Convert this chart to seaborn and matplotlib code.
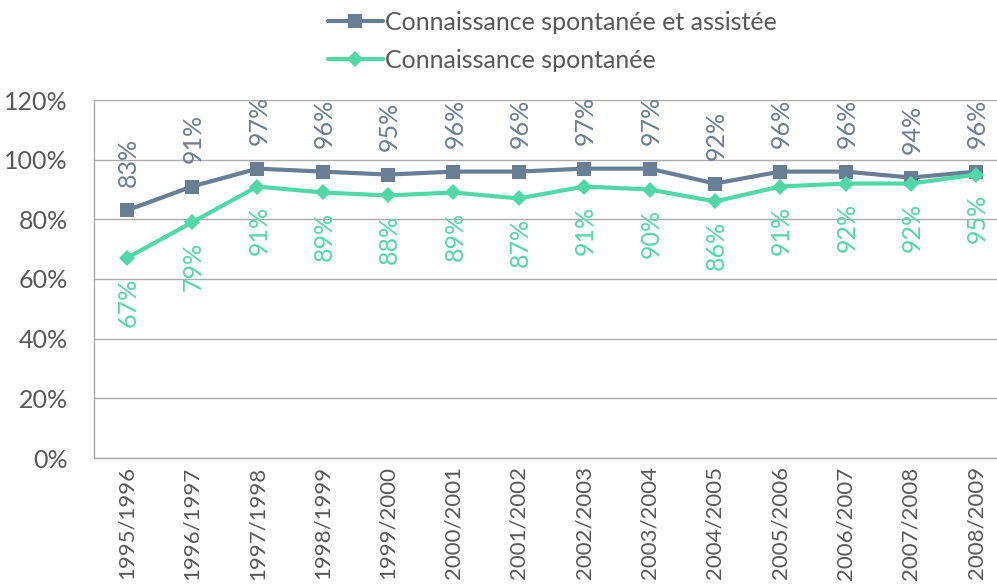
import numpy as np
import pandas as pd
import matplotlib
matplotlib.use("Agg")
import matplotlib.pyplot as plt
import seaborn as sns

# data
years = ["1995/1996", "1996/1997", "1997/1998", "1998/1999", "1999/2000", "2000/2001", "2001/2002",
         "2002/2003", "2003/2004", "2004/2005", "2005/2006", "2006/2007", "2007/2008", "2008/2009"]
assistee = [83, 91, 97, 96, 95, 96, 96, 97, 97, 92, 96, 96, 94, 96]
spontanee = [67, 79, 91, 89, 88, 89, 87, 91, 90, 86, 91, 92, 92, 95]
label_assistee = "Connaissance spontanée et assistée"
label_spontanee = "Connaissance spontanée"
y_ticks = [0, 20, 40, 60, 80, 100, 120]

col_blue = "#687E95"
col_green = "#4FD9A7"
col_text = "#595959"
col_grid = "#ABABAB"

sns.set_style("white")
plt.rcParams['font.family'] = ['Lato', 'DejaVu Sans']

fig = plt.figure(figsize=(9.97, 5.86), dpi=100)
ax = fig.add_axes([94 / 997, 128 / 586, 915 / 997, 358 / 586])

pos = np.arange(len(years))
df = pd.DataFrame({"pos": pos, "assistee": assistee, "spontanee": spontanee})

sns.lineplot(data=df, x="pos", y="assistee", ax=ax, color=col_blue, lw=3, marker="s",
             markersize=10, markeredgewidth=0, label=label_assistee)
sns.lineplot(data=df, x="pos", y="spontanee", ax=ax, color=col_green, lw=3, marker="D",
             markersize=8, markeredgewidth=0, label=label_spontanee)

# data labels, rotated like the original
for p, v in zip(pos, assistee):
    ax.annotate(f"{v}%", (p, v), xytext=(1, 17), textcoords="offset points", rotation=90,
                ha="center", va="bottom", fontsize=18, color=col_blue)
for p, v in zip(pos, spontanee):
    ax.annotate(f"{v}%", (p, v), xytext=(1, -14), textcoords="offset points", rotation=90,
                ha="center", va="top", fontsize=18, color=col_green)

ax.set_xlim(-0.5, len(years) - 0.5)
ax.set_ylim(0, 120)
ax.set_yticks(y_ticks)
ax.set_yticklabels([f"{t}%" for t in y_ticks])
ax.set_xticks(pos)
ax.set_xticklabels(years, rotation=90)
ax.set_xticks(np.arange(len(years) + 1) - 0.5, minor=True)
ax.tick_params(axis="x", which="major", length=0, pad=6, labelsize=16, labelcolor=col_text)
ax.tick_params(axis="x", which="minor", length=7, color=col_grid, width=1)
ax.tick_params(axis="y", length=7, color=col_grid, labelsize=18, labelcolor=col_text, pad=12)
ax.set_xlabel("")
ax.set_ylabel("")
ax.yaxis.grid(True, color=col_grid, lw=1)
ax.set_axisbelow(True)
for s in ["top", "right"]:
    ax.spines[s].set_visible(False)
for s in ["left", "bottom"]:
    ax.spines[s].set_color(col_grid)
    ax.spines[s].set_linewidth(1)

ax.get_legend().remove()
h, l = ax.get_legend_handles_labels()
fig.legend(h, l, loc="upper left", bbox_to_anchor=(305 / 997, 1.02), frameon=False, fontsize=18,
           labelcolor=col_text, handlelength=2.2, handletextpad=0.1, labelspacing=0.6)

fig.savefig("out.png", dpi=100)
